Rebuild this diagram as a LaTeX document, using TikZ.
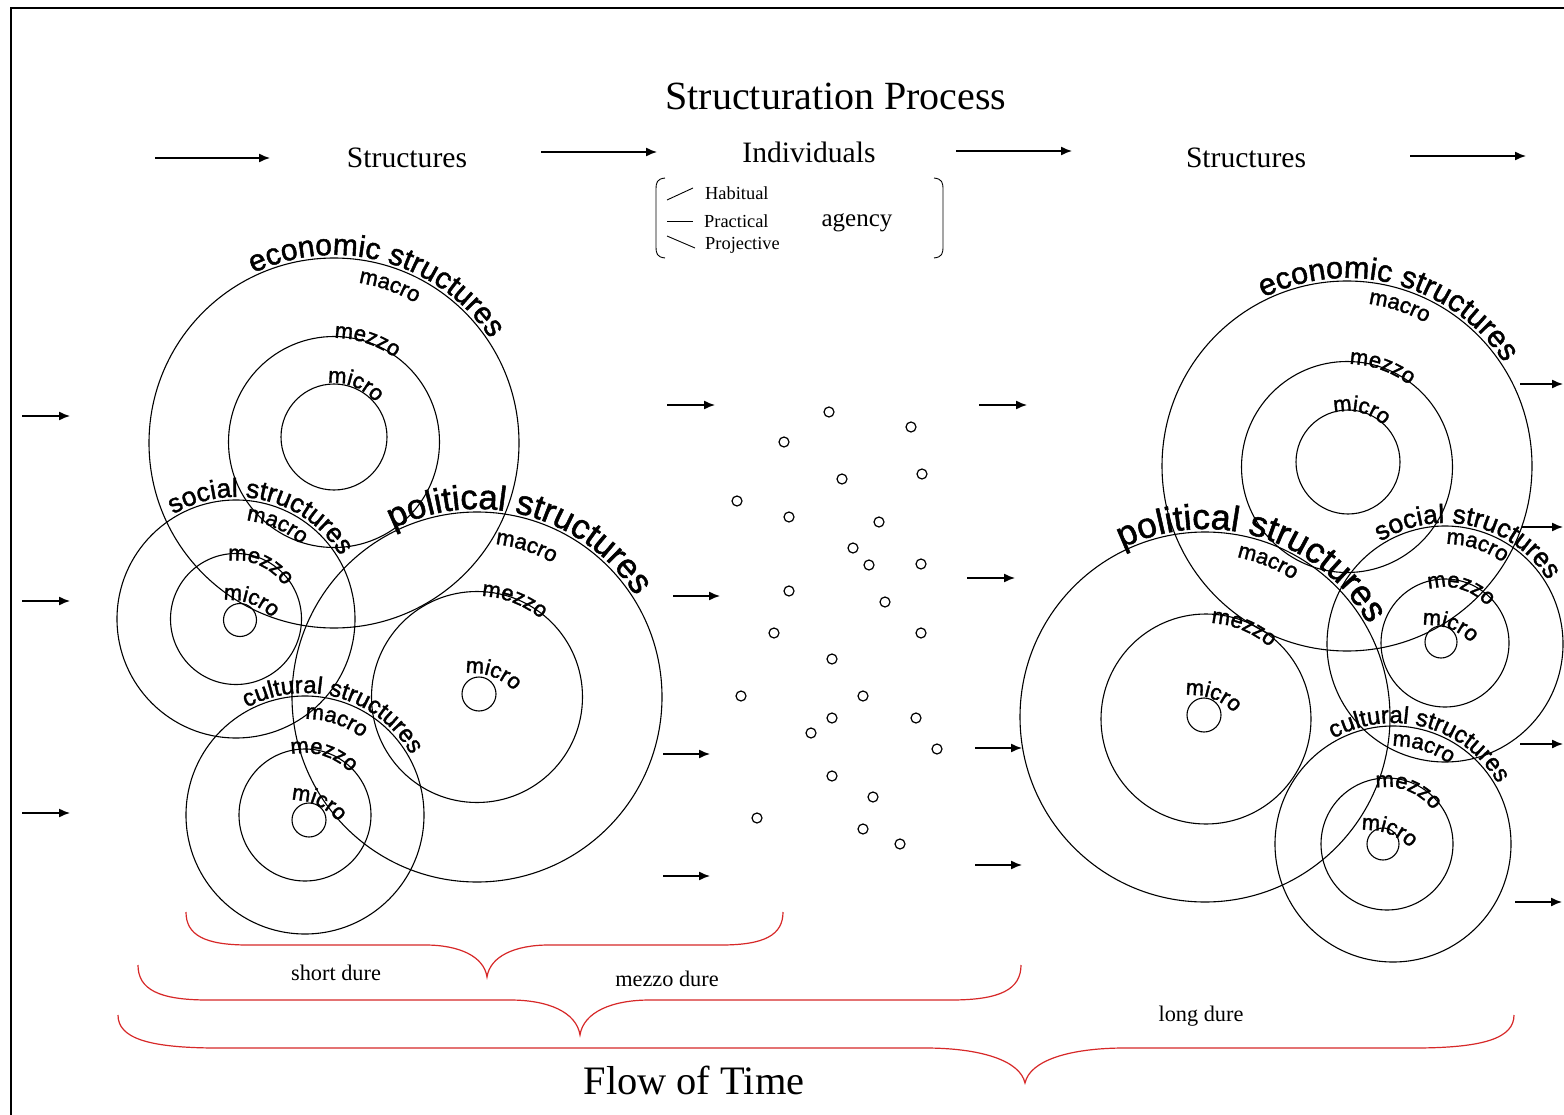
\documentclass[tikz,border=0pt]{standalone}
\usepackage{fontspec}
\setmainfont{Liberation Serif}
\setsansfont{Liberation Sans}
\newfontfamily\lblfont{Liberation Sans}[FakeBold=1.5]
\usetikzlibrary{arrows.meta,decorations.text,calc}
\definecolor{bracered}{RGB}{215,40,40}
\newcommand{\arclabel}[6]{%
  \path[decorate,decoration={text along path,text align=center,
    text={|\lblfont\fontsize{#5}{#5}\selectfont|#6}}]
    ($(#1,-#2)+(#4+85:#3)$) arc[start angle=#4+85,end angle=#4-85,radius=#3];}
\newcommand{\redbrace}[7]{%
  \draw[bracepath] (#1,-#4) .. controls (#1,{-(#4+0.7*(#5-#4))}) and ({#1+0.3*#7},-#5) .. ({#1+#7},-#5)
   -- ({#3-#7},-#5) .. controls ({#3-0.45*#7},-#5) and ({#3-0.05*#7},{-(#5+0.35*(#6-#5))}) .. (#3,-#6)
   .. controls ({#3+0.05*#7},{-(#5+0.35*(#6-#5))}) and ({#3+0.45*#7},-#5) .. ({#3+#7},-#5)
   -- ({#2-#7},-#5) .. controls ({#2-0.3*#7},-#5) and (#2,{-(#4+0.7*(#5-#4))}) .. (#2,-#4);}
\begin{document}
\begin{tikzpicture}[x=1pt,y=1pt,
  circ/.style={line width=1.1pt},
  dotc/.style={line width=1.2pt},
  arr/.style={line width=1.4pt,-{Latex[length=11pt,width=9pt]}},
  bracepath/.style={bracered,line width=1.2pt},
  serif/.style={inner sep=0pt,font=\rmfamily}]
\useasboundingbox (0,0) rectangle (1564,-1115);
\fill[white] (0,0) rectangle (1564,-1115);
% frame
\draw[line width=2pt] (11,-1115) -- (11,-8) -- (1564,-8);

% headings
\node[serif] (title) at (836,-96) {\fontsize{40}{48}\selectfont Structuration Process};
\node[serif] (struct1) at (407,-158) {\fontsize{29.6}{34}\selectfont Structures};
\node[serif] (indiv) at (809,-152) {\fontsize{29.6}{34}\selectfont Individuals};
\node[serif] (struct2) at (1246,-158) {\fontsize{29.6}{34}\selectfont Structures};

% agency bracket
\draw[line width=0.9pt] (665,-178) .. controls (657,-179) and (656,-182) .. (656,-190) -- (656,-246) .. controls (656,-254) and (657,-257) .. (665,-258);
\draw[line width=0.9pt] (934,-178) .. controls (942,-179) and (943,-182) .. (943,-190) -- (943,-246) .. controls (943,-254) and (942,-257) .. (934,-258);
\node[serif,anchor=west] (hab) at (705,-193) {\fontsize{18.4}{22}\selectfont Habitual};
\node[serif,anchor=west] (prac) at (704,-221) {\fontsize{18.4}{22}\selectfont Practical};
\node[serif,anchor=west] (proj) at (705,-245) {\fontsize{18.4}{22}\selectfont Projective};
\node[serif] (agency) at (857,-223) {\fontsize{25}{30}\selectfont agency};
\coordinate (hl1) at (667,-200); \coordinate (hl2) at (693,-188);
\coordinate (pl1) at (667,-221); \coordinate (pl2) at (693,-221);
\coordinate (jl1) at (667,-236); \coordinate (jl2) at (695,-248);
\draw[line width=0.9pt] (hl1) -- (hl2);
\draw[line width=0.9pt] (pl1) -- (pl2);
\draw[line width=0.9pt] (jl1) -- (jl2);

% arrows
\foreach \n/\xa/\xb/\y in {t1/155/270/158, t2/541/657/152, t3/956/1072/151, t4/1410/1526/156,
  l1/22/70/416, l2/22/70/601, l3/22/70/813,
  m1/667/715/405, m2/673/720/596, m3/663/710/754, m4/663/710/876,
  n1/979/1027/405, n2/967/1015/578, n3/975/1022/748, n4/975/1022/865,
  r1/1520/1563/384, r2/1522/1563/527, r3/1520/1563/744, r4/1515/1562/902}{
  \coordinate (s\n) at (\xa,-\y);
  \coordinate (e\n) at (\xb,-\y);
  \draw[arr] (s\n) -- (e\n);
}

% individuals (dots)
\foreach \x/\y in {829/412, 911/427, 784/442, 842/479, 922/474, 737/501, 789/517, 879/522,
  853/548, 869/565, 921/564, 789/591, 885/602, 774/633, 921/633, 832/659, 741/696, 863/696,
  832/718, 916/718, 811/733, 937/749, 832/776, 873/797, 757/818, 863/829, 900/844}{
  \draw[dotc] (\x,-\y) circle[radius=5];
}

% ---------- left structures ----------
\draw[circ] (334,-443) circle[radius=185];
\draw[circ] (334,-442) circle[radius=105.5];
\draw[circ] (334,-437) circle[radius=53];
\draw[circ] (236,-619) circle[radius=119];
\draw[circ] (236,-619) circle[radius=65.5];
\draw[circ] (240,-620) circle[radius=16.5];
\draw[circ] (477,-697) circle[radius=185];
\draw[circ] (477,-697) circle[radius=105.5];
\draw[circ] (479,-694) circle[radius=17];
\draw[circ] (305,-815) circle[radius=119];
\draw[circ] (305,-815) circle[radius=66];
\draw[circ] (309,-820) circle[radius=17];

\arclabel{334}{443}{188}{74.5}{30}{economic structures}
\arclabel{334}{443}{162}{70.5}{22}{macro}
\arclabel{334}{442}{104}{72}{22}{mezzo}
\arclabel{334}{437}{54}{68}{22}{micro}

\arclabel{236}{619}{122}{76}{26.5}{social structures}
\arclabel{236}{619}{99}{66.4}{22}{macro}
\arclabel{236}{619}{58.5}{66}{22}{mezzo}
\arclabel{229.4}{660}{60}{70}{22}{micro}

\arclabel{477}{697}{188}{74.5}{34.5}{political structures}
\arclabel{477}{697}{154}{71.8}{22}{macro}
\arclabel{477}{697}{101}{69}{22}{mezzo}
\arclabel{471.4}{733}{60}{70}{22}{micro}

\arclabel{305}{815}{122}{74}{24}{cultural structures}
\arclabel{305}{815}{96}{71.7}{22}{macro}
\arclabel{305}{815}{62}{73}{22}{mezzo}
\arclabel{292}{860}{60}{65}{22}{micro}

% ---------- right structures ----------
\draw[circ] (1347,-466) circle[radius=185];
\draw[circ] (1347,-467) circle[radius=105.5];
\draw[circ] (1348,-462) circle[radius=52];
\draw[circ] (1205,-717) circle[radius=185];
\draw[circ] (1206,-719) circle[radius=105];
\draw[circ] (1204,-715) circle[radius=17];
\draw[circ] (1445,-644) circle[radius=118];
\draw[circ] (1445,-643) circle[radius=64];
\draw[circ] (1441,-642) circle[radius=16];
\draw[circ] (1393,-844) circle[radius=118];
\draw[circ] (1387,-844) circle[radius=66];
\draw[circ] (1383,-844) circle[radius=16];

\arclabel{1347}{466}{188}{74.8}{30.5}{economic structures}
\arclabel{1347}{466}{163.5}{71.8}{22}{macro}
\arclabel{1347}{467}{103}{70.7}{22}{mezzo}
\arclabel{1348}{462}{51}{75.7}{22}{micro}

\arclabel{1205}{717}{188}{72.8}{35.5}{political structures}
\arclabel{1205}{717}{163}{68}{22}{macro}
\arclabel{1206}{719}{96}{67.7}{22}{mezzo}
\arclabel{1191.4}{755}{60}{70}{22}{micro}

\arclabel{1445}{644}{121}{77}{26.5}{social structures}
\arclabel{1445}{644}{100}{71.9}{22}{macro}
\arclabel{1445}{643}{56}{74}{22}{mezzo}
\arclabel{1428.4}{685}{60}{70}{22}{micro}

\arclabel{1393}{844}{121}{74.7}{24}{cultural structures}
\arclabel{1393}{844}{98}{72.6}{22}{macro}
\arclabel{1387}{844}{57}{68.7}{22}{mezzo}
\arclabel{1367.4}{890}{60}{70}{22}{micro}

% ---------- time braces ----------
\redbrace{186}{783}{487}{912}{945}{977}{62}
\redbrace{138}{1021}{580}{965}{1000}{1035}{70}
\redbrace{118}{1514}{1025}{1015}{1048}{1083}{100}

\node[serif] (short) at (336,-973) {\fontsize{22.3}{26}\selectfont short dure};
\node[serif] (mezzod) at (667,-979) {\fontsize{22.3}{26}\selectfont mezzo dure};
\node[serif] (longd) at (1201,-1016) {\fontsize{22.3}{26}\selectfont long dure};
\node[serif] (flow) at (694,-1080) {\fontsize{40.4}{48}\selectfont Flow of Time};
\end{tikzpicture}
\end{document}
